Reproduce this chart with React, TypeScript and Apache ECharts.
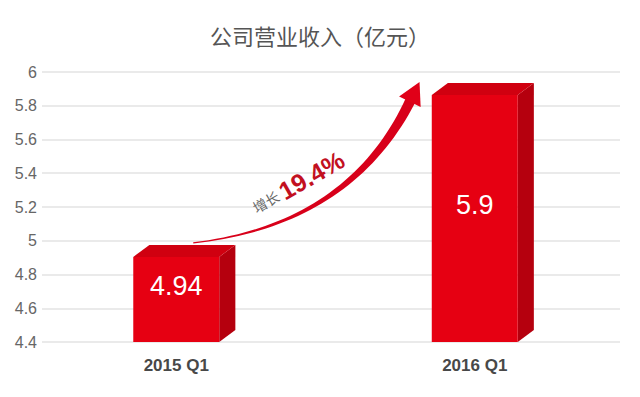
import React, { useEffect, useRef } from "react";
import * as echarts from "echarts";

const titleText = "公司营业收入（亿元）";
const categories = ["2015 Q1", "2016 Q1"];
const revenue = [4.94, 5.9];
const yMin = 4.4;
const yMax = 6;
const yStep = 0.2;
const growthPrefix = "增长";

function renderItem(params: any, api: any) {
  const i = api.value(0);
  const v = api.value(1);
  const [cx, vy] = api.coord([i, v]);
  const [, by] = api.coord([i, yMin]);
  const band = api.size([1, 0])[0];
  const fw = band * 0.288;
  const dx = band * 0.054;
  const dy = 12;
  const fl = cx - fw / 2;
  const fr = cx + fw / 2;
  const ft = vy + dy / 2;
  const children: any[] = [
    {
      type: "polygon",
      shape: { points: [[fr, ft], [fr + dx, ft - dy], [fr + dx, by - dy], [fr, by]] },
      style: { fill: "#b5000e" },
    },
    {
      type: "polygon",
      shape: { points: [[fl, ft], [fl + dx, ft - dy], [fr + dx, ft - dy], [fr, ft]] },
      style: { fill: "#d00010" },
    },
    {
      type: "rect",
      shape: { x: fl, y: ft, width: fw, height: by - ft },
      style: { fill: "#e60012" },
    },
    {
      type: "text",
      x: cx,
      y: (ft + by) / 2 - 13,
      style: {
        text: String(v),
        fill: "#ffffff",
        fontSize: 27,
        fontFamily: "Liberation Sans, Arial, sans-serif",
        align: "center",
        verticalAlign: "middle",
      },
    },
  ];

  if (params.dataIndex === revenue.length - 1) {
    const [x0, y0v] = api.coord([0, revenue[0]]);
    const [x2v, y2v] = api.coord([1, revenue[1]]);
    const P0 = [x0 + 17, y0v - 8];
    const P2 = [x2v - 64, y2v + 11];
    const P1 = [P0[0] + 0.72 * (P2[0] - P0[0]), P0[1] - 0.126 * (P0[1] - P2[1])];
    const B = (t: number) => [
      (1 - t) * (1 - t) * P0[0] + 2 * (1 - t) * t * P1[0] + t * t * P2[0],
      (1 - t) * (1 - t) * P0[1] + 2 * (1 - t) * t * P1[1] + t * t * P2[1],
    ];
    const D = (t: number) => [
      2 * (1 - t) * (P1[0] - P0[0]) + 2 * t * (P2[0] - P1[0]),
      2 * (1 - t) * (P1[1] - P0[1]) + 2 * t * (P2[1] - P1[1]),
    ];
    const upper: number[][] = [];
    const lower: number[][] = [];
    const N = 40;
    for (let k = 0; k <= N; k++) {
      const t = k / N;
      const p = B(t);
      const d = D(t);
      const len = Math.hypot(d[0], d[1]);
      const nx = -d[1] / len;
      const ny = d[0] / len;
      const w = 0.6 + 4.6 * Math.pow(t, 1.4);
      upper.push([p[0] + nx * w, p[1] + ny * w]);
      lower.push([p[0] - nx * w, p[1] - ny * w]);
    }
    const shaft = upper.concat(lower.reverse());
    const dEnd = D(1);
    const le = Math.hypot(dEnd[0], dEnd[1]);
    const ux = dEnd[0] / le;
    const uy = dEnd[1] / le;
    const nx = -uy;
    const ny = ux;
    const tip = [P2[0] + ux * 20, P2[1] + uy * 20];
    const base = [P2[0] - ux * 2, P2[1] - uy * 2];
    children.unshift(
      {
        type: "polygon",
        shape: { points: shaft },
        style: { fill: "#d8001a" },
      },
      {
        type: "polygon",
        shape: {
          points: [tip, [base[0] + nx * 12, base[1] + ny * 12], [base[0] - nx * 12, base[1] - ny * 12]],
        },
        style: { fill: "#e00018" },
      }
    );
    const mid = B(0.5);
    const pct = ((revenue[1] / revenue[0] - 1) * 100).toFixed(1) + "%";
    children.push({
      type: "text",
      x: mid[0] - 28,
      y: mid[1] - 15,
      rotation: (30 * Math.PI) / 180,
      style: {
        text: "{a|" + growthPrefix + "} {b|" + pct + "}",
        align: "center",
        verticalAlign: "middle",
        rich: {
          a: { fontSize: 14, fill: "#666", fontFamily: "Noto Sans CJK SC" },
          b: {
            fontSize: 25,
            fill: "#c2101f",
            fontWeight: "bold",
            fontFamily: "Liberation Sans, Arial, sans-serif",
          },
        },
      },
    });
  }
  return { type: "group", children };
}

export default function App() {
  const ref = useRef<HTMLDivElement>(null);
  useEffect(() => {
    if (!ref.current) return;
    const chart = echarts.init(ref.current, null, { renderer: "svg" });
    const axisFont = "Liberation Sans, Arial, sans-serif";
    chart.setOption({
      animation: false,
      backgroundColor: "#ffffff",
      title: {
        text: titleText,
        left: "center",
        top: 19,
        textStyle: { fontSize: 22, color: "#555", fontWeight: "normal", fontFamily: "Noto Sans CJK SC" },
      },
      grid: [
        { left: 42, right: 20, top: 72, bottom: 55 },
        { left: 27, right: 16, top: 72, bottom: 55 },
      ],
      xAxis: [
        { type: "category", gridIndex: 0, data: categories, show: false },
        {
          type: "category",
          gridIndex: 1,
          data: categories,
          axisLine: { show: false },
          axisTick: { show: false },
          axisLabel: { fontSize: 17, color: "#484848", fontWeight: "bold", margin: 15, fontFamily: axisFont },
        },
      ],
      yAxis: [
        {
          type: "value",
          gridIndex: 0,
          min: yMin,
          max: yMax,
          interval: yStep,
          axisLine: { show: false },
          axisTick: { show: false },
          splitLine: { lineStyle: { color: "#e3e3e3", width: 1.5 } },
          axisLabel: { margin: 5, fontSize: 16, color: "#666", fontFamily: axisFont },
        },
        { type: "value", gridIndex: 1, min: yMin, max: yMax, interval: yStep, show: false },
      ],
      series: [
        {
          type: "custom",
          xAxisIndex: 1,
          yAxisIndex: 1,
          data: revenue.map((v, i) => [i, v]),
          encode: { x: 0, y: 1 },
          renderItem,
        },
      ],
    });
    return () => chart.dispose();
  }, []);
  return <div ref={ref} style={{ position: "fixed", left: 0, top: 0, width: 640, height: 397 }} />;
}
